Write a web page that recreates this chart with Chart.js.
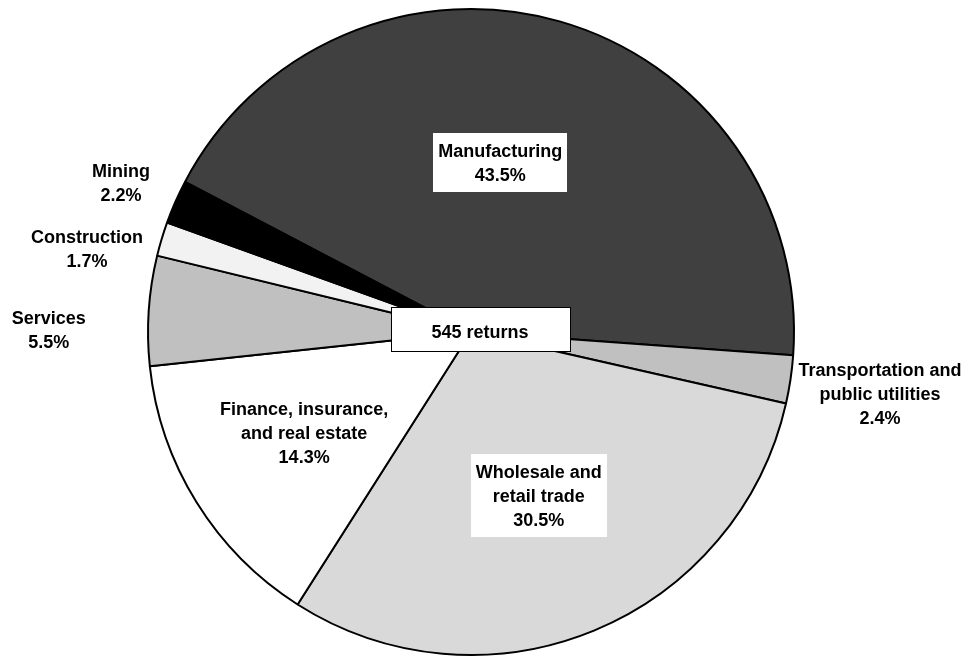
<!DOCTYPE html>
<html>
<head>
<meta charset="utf-8">
<script src="https://cdn.jsdelivr.net/npm/chart.js@4"></script>
<style>
  html, body { margin: 0; padding: 0; background: #ffffff; }
  #wrap { width: 969px; height: 657px; position: relative; }
</style>
</head>
<body>
<div id="wrap"><canvas id="c" width="969" height="657"></canvas></div>
<script>
// ---- Data ----
const categories = [
  "Manufacturing",
  "Transportation and public utilities",
  "Wholesale and retail trade",
  "Finance, insurance, and real estate",
  "Services",
  "Construction",
  "Mining"
];
const categoryLines = [
  ["Manufacturing"],
  ["Transportation and", "public utilities"],
  ["Wholesale and", "retail trade"],
  ["Finance, insurance,", "and real estate"],
  ["Services"],
  ["Construction"],
  ["Mining"]
];
const shares = [43.5, 2.4, 30.5, 14.3, 5.5, 1.7, 2.2];
const totalReturns = 545;
const centerLabel = totalReturns + " returns";

// ---- Styles ----
const sliceColors = ["#404040", "#c0c0c0", "#d9d9d9", "#ffffff", "#c0c0c0", "#f2f2f2", "#000000"];
// label placement: fraction of radius, fraction along the slice's arc
const labelRadiusFrac = [0.531, 1.281, 0.549, 0.604, 1.307, 1.216, 1.178];
const labelAngleFrac  = [0.461, 0.52, 0.499, 0.512, 0.32, -0.24, 0.42];
const labelBox        = [true, false, true, false, false, false, false];
const FONT = "bold 18px 'Liberation Sans', Arial, sans-serif";
const LINE_H = 24;

const labelPlugin = {
  id: 'sliceLabels',
  afterDatasetsDraw(chart) {
    const ctx = chart.ctx;
    const meta = chart.getDatasetMeta(0);
    ctx.save();
    ctx.font = FONT;
    ctx.textAlign = 'center';
    ctx.textBaseline = 'middle';
    let cx0 = 0, cy0 = 0;
    meta.data.forEach((arc, i) => {
      const p = arc.getProps(['x', 'y', 'startAngle', 'endAngle', 'outerRadius'], true);
      cx0 = p.x; cy0 = p.y;
      const a = p.startAngle + (p.endAngle - p.startAngle) * labelAngleFrac[i];
      const r = p.outerRadius * labelRadiusFrac[i];
      const lx = p.x + r * Math.cos(a);
      const ly = p.y + r * Math.sin(a);
      const lines = categoryLines[i].concat([shares[i].toFixed(1) + "%"]);
      const h = lines.length * LINE_H;
      if (labelBox[i]) {
        let w = 0;
        lines.forEach(t => { w = Math.max(w, ctx.measureText(t).width); });
        ctx.fillStyle = '#ffffff';
        ctx.fillRect(Math.round(lx - w / 2 - 5), Math.round(ly - h / 2 - 6), Math.round(w + 10), Math.round(h + 11));
      }
      ctx.fillStyle = '#000000';
      lines.forEach((t, k) => {
        ctx.fillText(t, lx, ly - h / 2 + LINE_H * (k + 0.5) + 1);
      });
    });
    // center label
    const bw = 179, bh = 44;
    const bx = cx0 + 9 - bw / 2, by = cy0 - 3 - bh / 2;
    ctx.fillStyle = '#ffffff';
    ctx.fillRect(Math.round(bx) + 0.5, Math.round(by) + 0.5, bw, bh);
    ctx.strokeStyle = '#000000';
    ctx.lineWidth = 1;
    ctx.strokeRect(Math.round(bx) + 0.5, Math.round(by) + 0.5, bw, bh);
    ctx.fillStyle = '#000000';
    ctx.fillText(centerLabel, cx0 + 9, cy0 + 1);
    ctx.restore();
  }
};

new Chart(document.getElementById('c'), {
  type: 'pie',
  data: {
    labels: categories,
    datasets: [{
      data: shares,
      backgroundColor: sliceColors,
      borderColor: '#000000',
      borderWidth: 2
    }]
  },
  options: {
    responsive: false,
    devicePixelRatio: 1,
    animation: false,
    rotation: -62.3,
    layout: { padding: { top: 8, bottom: 1, left: 0, right: 27 } },
    plugins: {
      legend: { display: false },
      tooltip: { enabled: false },
      title: { display: false }
    }
  },
  plugins: [labelPlugin]
});
</script>
</body>
</html>
